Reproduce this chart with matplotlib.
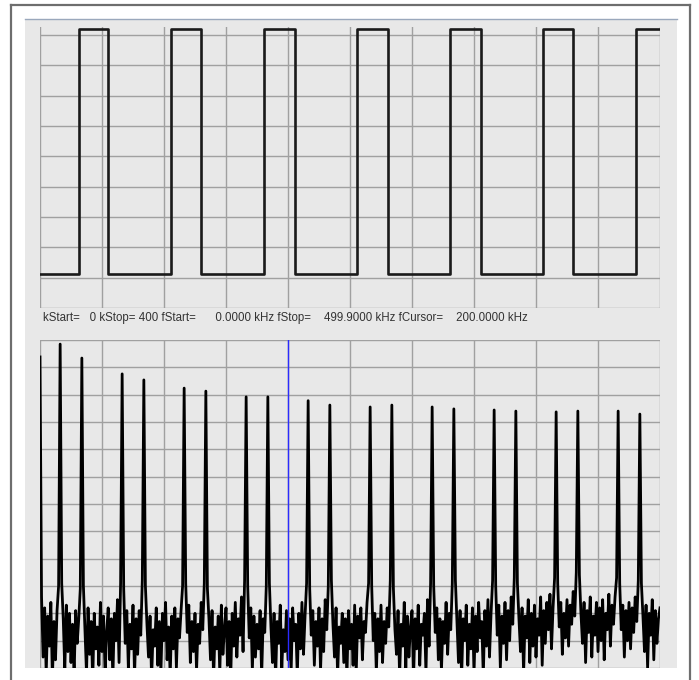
import numpy as np
import matplotlib
matplotlib.use('Agg')
import matplotlib.pyplot as plt
from matplotlib.patches import Rectangle
from matplotlib.lines import Line2D

# time trace: switching instants in grid divisions (10 divisions across)
edge_times = [0.63, 1.10, 2.12, 2.60, 3.61, 4.11, 5.11, 5.61, 6.61, 7.11, 8.11, 8.60, 9.62]
level_low = 1.12
level_high = 9.2

# spectrum: bins 0..400, values in grid divisions (12 divisions tall)
k_start = 0
k_stop = 400
f_stop_khz = 499.9
f_cursor_khz = 200.0
peak_bins = [0, 13, 27, 53, 67, 93, 107, 133, 147, 173, 187, 213, 227, 253, 267,
             293, 307, 333, 347, 373, 387]
peak_levels = [11.38, 11.85, 11.34, 10.76, 10.54, 10.24, 10.13, 9.92, 9.92, 9.78, 9.62,
               9.55, 9.62, 9.55, 9.48, 9.44, 9.40, 9.37, 9.40, 9.40, 9.29]

# noise floor, tenths of a division (peak bins get overwritten)
noise_floor = [
    0, 26, 4, 22, -2, 19, 8, 24, -4, 17, 3, 21, 30, 0, 31, 18, -1, 23, 6, 20,
    2, 16, -3, 21, 9, 18, 29, 0, 30, 14, -2, 22, 5, 17, -5, 20, 7, 15, 1, 24,
    6, 19, -2, 13, 22, 3, 18, -4, 20, 10, 25, 2, 31, 0, 29, 9, 21, 0, 16, 7,
    23, -3, 18, 5, 21, 12, 32, 0, 30, 16, 4, 19, -4, 14, 8, 22, 1, 17, -2, 20,
    10, 24, 3, 15, -3, 19, 7, 22, 0, 18, 11, 21, 30, 0, 31, 13, 23, 2, 17, 6,
    20, -1, 16, 9, 24, 14, 31, 0, 29, 18, 3, 21, -4, 15, 7, 19, -2, 23, 5, 14,
    22, 1, 17, -5, 20, 8, 24, 4, 18, 12, 26, 6, 32, 0, 30, 11, 22, -1, 19, 4,
    16, 7, 21, -3, 18, 13, 30, 0, 31, 15, 2, 20, -4, 17, 9, 23, 0, 14, 6, 21,
    3, 18, -2, 22, 10, 16, -3, 20, 7, 24, 5, 19, 31, 0, 29, 12, 21, 1, 17, 8,
    22, -1, 18, 6, 25, 14, 30, 0, 32, 16, 4, 22, -3, 15, 9, 20, 2, 18, -4, 21,
    7, 16, 1, 23, -2, 19, 11, 22, 3, 17, 13, 24, 31, 0, 30, 10, 20, -2, 18, 6,
    23, 2, 17, 9, 22, 15, 32, 0, 29, 14, 5, 21, -3, 16, 8, 24, 0, 19, 4, 15,
    21, -4, 18, 7, 23, 1, 16, 12, 20, -2, 25, 8, 31, 0, 30, 13, 22, 3, 18, -1,
    17, 9, 24, 5, 20, 14, 31, 0, 32, 17, 2, 21, -4, 18, 10, 23, 1, 16, 7, 22,
    -2, 19, 6, 24, 11, 17, -3, 21, 8, 25, 4, 20, 32, 0, 30, 12, 23, 0, 19, 9,
    24, 3, 21, 10, 26, 16, 33, 0, 31, 18, 6, 22, -2, 19, 11, 25, 2, 20, 8, 23,
    4, 18, 12, 26, 1, 21, 9, 24, 14, 27, 7, 22, 33, 0, 31, 15, 24, 5, 20, 11,
    25, 8, 23, 16, 28, 19, 35, 0, 34, 20, 9, 24, 2, 21, 13, 26, 4, 19, 12, 24,
    6, 22, 10, 25, 3, 20, 14, 27, 8, 23, 16, 26, 33, 0, 31, 14, 23, 4, 21, 10,
    24, 7, 22, 13, 26, 17, 32, 0, 31, 19, 6, 23, 0, 20, 12, 25, 3, 21, 9, 18,
    22,
]

panel_col = '#e8e8e8'
grid_col = '#a0a0a0'

fig = plt.figure(figsize=(6.99, 6.80), dpi=100)
fig.patch.set_facecolor('white')
W, H = 699.0, 680.0


def fx(px):
    return px / W


def fy(py):
    return 1 - py / H


# gray instrument panel and the outer frame
fig.patches.append(Rectangle((fx(25), fy(668)), fx(652), 649 / H, transform=fig.transFigure,
                             facecolor=panel_col, edgecolor='none', zorder=-10))
fig.lines.append(Line2D([fx(25), fx(677)], [fy(19), fy(19)], transform=fig.transFigure,
                        color='#9aa8bc', lw=1.0, zorder=-5))
for xs, ys in [([fx(11), fx(11)], [fy(5), 0]), ([fx(11), fx(690)], [fy(5), fy(5)]),
               ([fx(690), fx(690)], [fy(5), 0])]:
    fig.lines.append(Line2D(xs, ys, transform=fig.transFigure, color='#6e6e6e', lw=1.6,
                            zorder=-5))

# --- time domain ---
ax1 = fig.add_axes([fx(40), fy(308), fx(620), 281 / H])
ax1.set_facecolor(panel_col)
xs = [0.0]
ys = [level_low]
lvl = level_low
for t in edge_times:
    xs += [t, t]
    ys += [lvl, level_high if lvl == level_low else level_low]
    lvl = ys[-1]
xs.append(10.0)
ys.append(lvl)
ax1.plot(xs, ys, color='#1a1a1a', lw=1.9, zorder=3)
ax1.set_xlim(0, 10)
ax1.set_ylim(0, 9.26)
ax1.set_xticks(np.arange(0, 11))
ax1.set_yticks(np.arange(0, 10))
ax1.grid(True, color=grid_col, lw=1.0)
ax1.tick_params(length=0, labelbottom=False, labelleft=False)
for s in ax1.spines.values():
    s.set_visible(False)

label = (f"kStart=   {k_start} kStop= {k_stop} fStart=      0.0000 kHz fStop=    "
         f"{f_stop_khz:.4f} kHz fCursor=    {f_cursor_khz:.4f} kHz")
fig.text(fx(43), fy(318), label, fontsize=8.3, family='Liberation Sans',
         color='#333333', va='center', ha='left')

# --- spectrum ---
ax2 = fig.add_axes([fx(40), fy(668), fx(620), 328 / H])
ax2.set_facecolor(panel_col)
spec = np.array(noise_floor, dtype=float) / 10.0
spec[peak_bins] = peak_levels
bins = np.arange(len(spec))
ax2.plot(bins, spec, color='black', lw=2.0, zorder=3)
cursor_bin = f_cursor_khz / (f_stop_khz + 0.1) * k_stop
ax2.axvline(cursor_bin, color='#2b2bff', lw=1.0, zorder=4)
ax2.set_xlim(0, k_stop)
ax2.set_ylim(0, 12)
ax2.set_xticks(np.linspace(0, k_stop, 11))
ax2.set_yticks(np.arange(0, 13))
ax2.grid(True, color=grid_col, lw=1.0)
ax2.tick_params(length=0, labelbottom=False, labelleft=False)
for s in ax2.spines.values():
    s.set_visible(False)

plt.savefig('out.png', dpi=100)
